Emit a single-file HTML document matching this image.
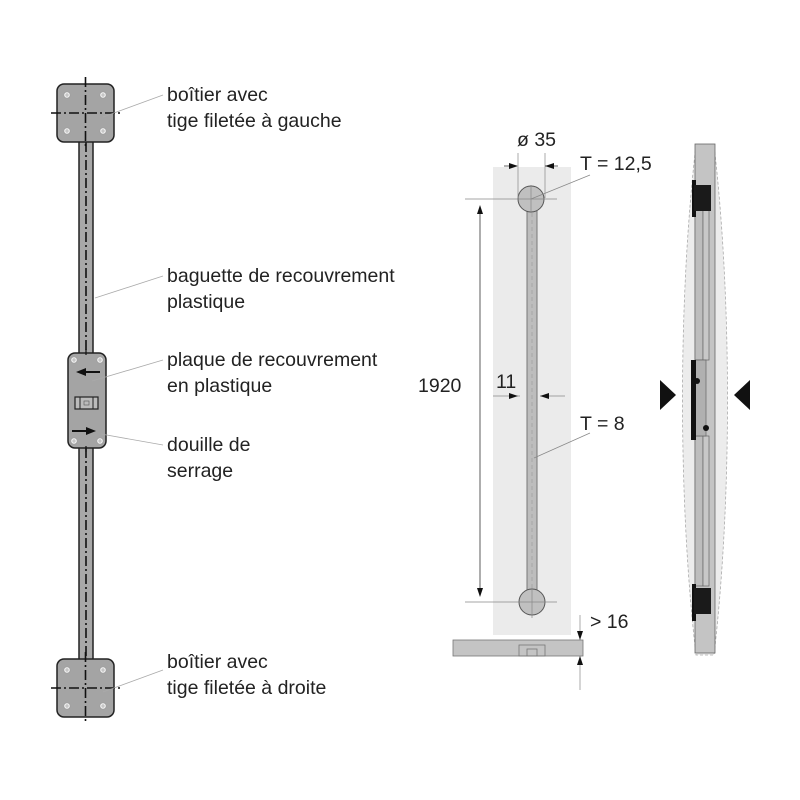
<!DOCTYPE html>
<html><head><meta charset="utf-8"><style>html,body{margin:0;padding:0;background:#fff}svg{display:block}text{font-family:"Liberation Sans",sans-serif;fill:#222}</style></head><body>
<svg width="800" height="800" viewBox="0 0 800 800" xmlns="http://www.w3.org/2000/svg">
<defs>
<g id="screw"><circle r="3.2" fill="#eee" stroke="#999" stroke-width="0.6"/><path d="M-2,0h4M0,-2v4" stroke="#999" stroke-width="0.6"/></g>
<g id="box">
<rect x="57" y="-29" width="57" height="58" rx="7" fill="#a4a4a4" stroke="#222" stroke-width="1.5"/>
<use href="#screw" x="67" y="-18"/><use href="#screw" x="103" y="-18"/><use href="#screw" x="67" y="18"/><use href="#screw" x="103" y="18"/>
<path d="M51,0H120M85.5,-36V36" stroke="#111" stroke-width="1.6" stroke-dasharray="10,3,2,3"/>
</g>
</defs>
<rect x="79" y="140" width="14" height="215" fill="#a8a8a8" stroke="#222" stroke-width="1.5"/>
<rect x="79" y="446" width="14" height="215" fill="#a8a8a8" stroke="#222" stroke-width="1.5"/>
<path d="M86,142V660" stroke="#111" stroke-width="1.6" stroke-dasharray="10,3,2,3"/>
<use href="#box" y="113"/>
<use href="#box" y="688"/>
<rect x="68" y="353" width="38" height="95" rx="7" fill="#a4a4a4" stroke="#222" stroke-width="1.5"/>
<use href="#screw" x="74" y="360"/><use href="#screw" x="100" y="360"/><use href="#screw" x="74" y="441"/><use href="#screw" x="100" y="441"/>
<path d="M86,349v6M86,446v6" stroke="#111" stroke-width="1.2"/>
<path d="M100,372H84" stroke="#111" stroke-width="2"/><path d="M76,372l10,-4v8z" fill="#111"/>
<path d="M72,431H88" stroke="#111" stroke-width="2"/><path d="M96,431l-10,-4v8z" fill="#111"/>
<rect x="75" y="397" width="23" height="12" fill="#bbb" stroke="#222" stroke-width="1.2"/>
<path d="M80,397v12M93,397v12" stroke="#222" stroke-width="1"/><rect x="84" y="401" width="5" height="4" fill="none" stroke="#555" stroke-width="0.6"/>
<g stroke="#aaa" stroke-width="0.8" fill="none">
<path d="M103,117L163,95"/><path d="M95,298L163,276"/><path d="M92,381L163,360"/><path d="M101,434L163,445"/><path d="M103,692L163,670"/>
</g>
<g font-size="19.5">
<text x="167" y="101">boîtier avec</text><text x="167" y="127">tige filetée à gauche</text>
<text x="167" y="282">baguette de recouvrement</text><text x="167" y="308">plastique</text>
<text x="167" y="366">plaque de recouvrement</text><text x="167" y="392">en plastique</text>
<text x="167" y="451">douille de</text><text x="167" y="477">serrage</text>
<text x="167" y="668">boîtier avec</text><text x="167" y="694">tige filetée à droite</text>
</g>
<rect x="493" y="167" width="78" height="468" fill="#ebebeb"/>
<rect x="527" y="205" width="10" height="390" fill="#bdbdbd" stroke="#777" stroke-width="1"/>
<path d="M532,206V594" stroke="#999" stroke-width="0.6" stroke-dasharray="4,3"/>
<circle cx="531" cy="199" r="13" fill="#c0c0c0" stroke="#555" stroke-width="1"/>
<circle cx="532" cy="602" r="13" fill="#c0c0c0" stroke="#555" stroke-width="1"/>
<g stroke="#888" stroke-width="0.7" fill="none">
<path d="M465,199H557M531,185V213"/><path d="M465,602H557M532,588V618"/>
<path d="M518,153V198M545,153V198"/>
<path d="M531,199L590,175"/><path d="M534,458L590,433"/>
<path d="M493,396H520M540,396H565"/>
<path d="M580,640V615M580,656V690"/>
</g>
<path d="M480,210V592" stroke="#333" stroke-width="0.8"/>
<path d="M480,205l-3,9h6z M480,597l-3,-9h6z" fill="#111"/>
<path d="M504,166H517M558,166H545" stroke="#333" stroke-width="0.8"/><path d="M518,166l-9,-3v6z M545,166l9,-3v6z" fill="#111"/>
<path d="M518,396l-9,-3v6z M540,396l9,-3v6z" fill="#111"/>
<path d="M580,640l-3,-9h6z M580,656l-3,9h6z" fill="#111"/>
<rect x="453" y="640" width="130" height="16" fill="#c4c4c4" stroke="#777" stroke-width="0.8"/>
<rect x="519" y="645" width="26" height="11" fill="none" stroke="#777" stroke-width="0.8"/><rect x="527" y="649" width="10" height="7" fill="none" stroke="#777" stroke-width="0.8"/>
<g font-size="19.5">
<text x="517" y="146">ø 35</text>
<text x="580" y="170">T = 12,5</text>
<text x="418" y="392">1920</text>
<text x="496" y="388">11</text>
<text x="580" y="430">T = 8</text>
<text x="590" y="628">&gt; 16</text>
</g>
<path d="M696,145 C678,300 678,500 696,655 L714,655 C732,500 732,300 714,145z" fill="#ececec" stroke="#aaa" stroke-width="0.8" stroke-dasharray="3,2"/>
<rect x="695" y="144" width="20" height="509" fill="#c4c4c4" stroke="#666" stroke-width="0.8"/>
<rect x="695" y="210" width="8" height="150" fill="#bdbdbd" stroke="#666" stroke-width="0.7"/>
<rect x="703" y="210" width="6" height="150" fill="#c8c8c8" stroke="#666" stroke-width="0.7"/>
<rect x="695" y="436" width="8" height="150" fill="#bdbdbd" stroke="#666" stroke-width="0.7"/>
<rect x="703" y="436" width="6" height="150" fill="#c8c8c8" stroke="#666" stroke-width="0.7"/>
<path d="M695,360h11v76h-11z" fill="#b0b0b0" stroke="#666" stroke-width="0.7"/>
<rect x="692" y="180" width="4" height="37" fill="#111"/><rect x="694" y="185" width="17" height="26" fill="#1a1a1a"/>
<rect x="692" y="584" width="4" height="37" fill="#111"/><rect x="694" y="588" width="17" height="26" fill="#1a1a1a"/>
<rect x="691" y="360" width="5" height="80" fill="#111"/>
<circle cx="697" cy="381" r="3" fill="#111"/><circle cx="706" cy="428" r="3" fill="#111"/>
<path d="M660,380L676,395L660,410z" fill="#111"/>
<path d="M750,380L734,395L750,410z" fill="#111"/>
</svg>
</body></html>
